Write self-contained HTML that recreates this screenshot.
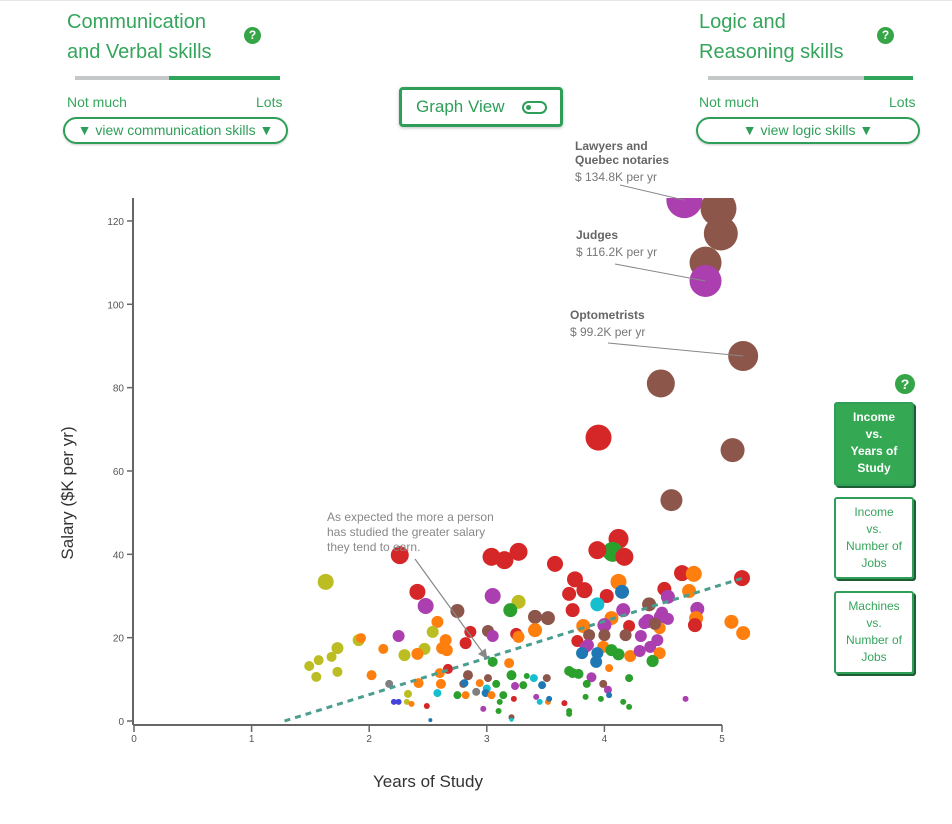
<!DOCTYPE html>
<html><head><meta charset="utf-8">
<style>
body{margin:0;width:952px;height:824px;background:#fff;font-family:"Liberation Sans",sans-serif;position:relative;overflow:hidden;color:#35a55c}
.abs{position:absolute}
.title{font-size:20px;line-height:30px;color:#35a55c}
.help{width:17px;height:17px;border-radius:50%;background:#35a547;color:#fff;font-size:12px;font-weight:bold;text-align:center;line-height:17px}
.lbl{font-size:14px;color:#35a55c}
.drop{border:2px solid #2e9e58;border-radius:14px;height:23px;font-size:14px;line-height:23px;text-align:center;color:#2e9e58;box-shadow:0 1px 2px rgba(0,0,0,.2)}
.sbtn{width:80px;border:2px solid #2e9e58;border-radius:3px;box-shadow:2px 2px 0 #1d5e33;font-size:12px;line-height:17px;text-align:center;box-sizing:border-box;color:#35a55c;padding-top:5px}
</style></head><body>
<div class="abs" style="left:0;top:0;width:952px;height:1px;background:#e6e6e6"></div>

<div class="abs title" style="left:67px;top:7px">Communication<br>and Verbal skills</div>
<div class="abs help" style="left:244px;top:27px">?</div>
<div class="abs" style="left:75px;top:76px;width:94px;height:4px;background:#c5c8c8"></div>
<div class="abs" style="left:169px;top:76px;width:111px;height:4px;background:#2fa55c"></div>
<div class="abs lbl" style="left:67px;top:94px">Not much</div>
<div class="abs lbl" style="left:256px;top:94px">Lots</div>
<div class="abs drop" style="left:63px;top:117px;width:221px">▼ view communication skills ▼</div>

<div class="abs" style="left:399px;top:87px;width:158px;height:34px;border:3px solid #2e9e58;border-radius:4px;font-size:17px;line-height:34px;color:#2e9e58;box-shadow:0 1px 3px rgba(0,0,0,.25)"><span style="margin-left:14px">Graph View</span>
<span class="abs" style="left:120px;top:11px;width:21px;height:9px;border:2px solid #2e9e58;border-radius:7px"><span class="abs" style="left:2px;top:2px;width:5px;height:5px;border-radius:50%;background:#2e9e58"></span></span></div>

<div class="abs title" style="left:699px;top:7px">Logic and<br>Reasoning skills</div>
<div class="abs help" style="left:877px;top:27px">?</div>
<div class="abs" style="left:708px;top:76px;width:156px;height:4px;background:#c5c8c8"></div>
<div class="abs" style="left:864px;top:76px;width:49px;height:4px;background:#2fa55c"></div>
<div class="abs lbl" style="left:699px;top:94px">Not much</div>
<div class="abs lbl" style="left:889px;top:94px">Lots</div>
<div class="abs drop" style="left:696px;top:117px;width:220px">▼ view logic skills ▼</div>

<div class="abs help" style="left:895px;top:374px;width:20px;height:20px;line-height:20px;font-size:14px">?</div>
<div class="abs sbtn" style="left:834px;top:402px;height:84px;background:#34a853;color:#fff;font-weight:bold">Income<br>vs.<br>Years of<br>Study</div>
<div class="abs sbtn" style="left:834px;top:497px;height:82px">Income<br>vs.<br>Number of<br>Jobs</div>
<div class="abs sbtn" style="left:834px;top:591px;height:83px">Machines<br>vs.<br>Number of<br>Jobs</div>

<svg class="abs" style="left:0;top:0" width="952" height="824" id="chart"></svg>

<script>
const xTicks=[0,1,2,3,4,5];
const yTicks=[0,20,40,60,80,100,120];
const palette=["#d62728","#ff7f0e","#2ca02c","#ab3fb0","#8c564b","#bcbd22","#17becf","#1f77b4","#7f7f7f","#4444dd"];
// [years, salary, bubble size, color index]
const years=[4.68,4.97,4.99,4.86,4.86,5.18,4.48,3.95,5.09,4.57,4.12,4.07,4.17,3.94,3.27,3.04,3.15,2.26,3.58,1.63,3.75,2.41,3.05,3.27,3.20,2.48,2.75,3.83,3.70,3.73,4.12,4.15,4.02,3.94,4.66,4.76,5.17,4.51,4.54,4.72,4.38,4.79,4.16,5.08,5.18,4.78,4.77,4.48,4.37,3.41,3.52,3.41,3.25,3.27,3.01,3.05,2.86,2.82,2.65,2.58,2.54,2.62,2.66,2.47,2.41,2.30,2.25,2.12,1.91,1.93,1.73,1.68,1.57,1.49,1.55,1.73,2.02,2.67,2.60,2.84,2.42,2.17,2.61,2.58,2.33,2.32,2.36,2.21,2.25,2.49,2.75,2.82,2.91,2.80,2.81,2.94,3.01,3.00,2.99,3.04,3.08,3.14,3.11,3.19,3.05,3.21,3.82,4.06,4.0,4.21,4.18,4.0,3.87,3.77,3.86,3.84,3.99,4.06,4.12,3.81,3.94,3.93,4.22,4.31,4.34,4.41,4.49,4.54,4.47,4.43,4.45,4.39,4.30,4.47,4.41,3.70,3.73,3.78,3.89,3.85,3.99,4.04,4.21,4.03,4.04,3.84,3.97,4.16,4.21,4.69,3.66,3.70,3.70,3.34,3.40,3.51,3.31,3.47,3.24,3.42,3.45,3.52,3.53,3.23,3.10,2.97,3.21,3.21,2.52];
const salary=[125,123,117,110,105.6,87.6,81,68,65,53,43.7,40.6,39.4,41,40.6,39.4,38.6,39.8,37.7,33.4,34,31,30,28.6,26.6,27.6,26.4,31.4,30.5,26.6,33.4,31,30,28,35.5,35.3,34.3,31.7,29.8,31.2,28,26.9,26.6,23.8,21.1,24.7,23,25,24,25,24.7,21.8,20.9,20.2,21.6,20.4,21.4,18.7,19.4,23.8,21.4,17.5,17,17.3,16.1,15.8,20.4,17.3,19.4,19.9,17.5,15.4,14.6,13.2,10.6,11.8,11,12.5,11.5,11,9.1,8.9,8.9,6.7,6.5,4.6,4.1,4.6,4.6,3.6,6.2,6.2,7,8.9,9.1,9.1,10.3,7.8,6.7,6.2,8.9,6.2,4.6,13.9,14.2,11,22.8,24.7,23,22.8,20.6,20.6,20.6,19.2,18.2,17.8,17.8,17,16,16.3,16.3,14.2,15.6,20.4,23.5,14.4,26,24.5,22.3,23.3,19.4,17.8,16.8,16.3,14.4,12,11.5,11.3,10.5,8.9,8.9,12.7,10.3,7.5,6.2,5.8,5.3,4.6,3.4,5.3,4.3,2.4,1.7,10.8,10.3,10.3,8.6,8.6,8.4,5.8,4.6,4.6,5.3,5.3,2.4,2.9,0.9,0.3,0.2];
const sizes=[18,18,17,16,16,15,14,13,12,11,10,10,9,9,9,9,9,9,8,8,8,8,8,7,7,8,7,8,7,7,8,7,7,7,8,8,8,7,7,7,7,7,7,7,7,7,7,7,7,7,7,7,6,6,6,6,6,6,6,6,6,6,6,6,6,6,6,5,6,5,6,5,5,5,5,5,5,5,5,5,5,4,5,4,4,3,3,3,3,3,4,4,4,4,4,4,4,4,4,4,4,4,3,5,5,5,7,7,7,6,6,6,6,6,6,6,6,6,6,6,6,6,6,6,6,6,6,6,6,6,6,6,6,6,6,5,5,5,5,4,4,4,4,4,3,3,3,3,3,3,3,3,3,3,4,4,4,4,4,3,3,3,3,3,3,3,3,2,2,2,1.5];
const colors=[3,4,4,4,3,4,4,0,4,4,0,2,0,0,0,0,0,0,0,5,0,0,3,5,2,3,4,0,0,0,1,7,0,6,0,1,0,0,3,1,4,3,3,1,1,1,0,3,3,4,4,1,0,1,4,3,0,0,1,1,5,1,1,5,1,5,3,1,5,1,5,5,5,5,5,5,1,0,1,4,1,8,1,6,5,5,1,9,9,0,2,1,8,4,7,1,4,6,7,1,2,2,2,1,2,2,1,1,3,0,4,4,4,0,3,3,1,2,2,7,7,7,1,3,3,2,3,3,1,4,3,3,3,1,2,2,2,2,3,2,4,1,2,3,7,2,2,2,2,3,0,2,2,2,6,4,2,7,3,3,6,1,7,0,2,3,4,6,7,6];
const trendX=[1.28,5.2];
const trendY=[0,34.5];
const noteNames=[["Lawyers and","Quebec notaries"],["Judges"],["Optometrists"]];
const noteSalary=["$ 134.8K per yr","$ 116.2K per yr","$ 99.2K per yr"];
const noteYears=[4.68,4.86,5.18];
const noteValues=[125,105.6,87.6];
const noteLayout=[{x:575,ty:150,lx:620,ly:185},{x:576,ty:239,lx:615,ly:264},{x:570,ty:319,lx:608,ly:343}];

const X0=134,XU=117.6,Y0=721,YU=4.167;
const xs=v=>X0+v*XU, ys=v=>Y0-v*YU;
const svg=document.getElementById('chart'),NS="http://www.w3.org/2000/svg";
function mk(t,a,p){const e=document.createElementNS(NS,t);for(const k in a)e.setAttribute(k,a[k]);(p||svg).appendChild(e);return e;}
const defs=mk('defs',{});
const cp=mk('clipPath',{id:'plotclip'},defs);mk('rect',{x:100,y:198,width:700,height:560},cp);
const mark=mk('marker',{id:'arr',markerWidth:8,markerHeight:8,refX:6,refY:4,orient:'auto'},defs);mk('path',{d:'M0,0L8,4L0,8z',fill:'#888'},mark);

const g=mk('g',{'clip-path':'url(#plotclip)'});
for(let i=0;i<years.length;i++){
  const c=mk('circle',{cx:xs(years[i]),cy:ys(salary[i]),r:sizes[i],fill:palette[colors[i]]},g);
  
  
}
const tl=mk('line',{x1:xs(trendX[0]),y1:ys(trendY[0]),x2:xs(trendX[1]),y2:ys(trendY[1]),stroke:'#4a9d8f','stroke-width':3,'stroke-dasharray':'6 5'});



const ya=mk('line',{x1:X0-1,y1:198,x2:X0-1,y2:725,stroke:'#666','stroke-width':2});


const xa=mk('line',{x1:X0-1,y1:725,x2:xs(5),y2:725,stroke:'#666','stroke-width':2});


yTicks.forEach(v=>{
  mk('line',{x1:X0-7,y1:ys(v),x2:X0-1,y2:ys(v),stroke:'#666','stroke-width':1.5});
  const t=mk('text',{x:X0-10,y:ys(v)+4,'text-anchor':'end','font-size':10,fill:'#555'});t.textContent=v;
  
  
});
xTicks.forEach(v=>{
  mk('line',{x1:xs(v),y1:725,x2:xs(v),y2:732,stroke:'#666','stroke-width':1.5});
  const t=mk('text',{x:xs(v),y:742,'text-anchor':'middle','font-size':10,fill:'#555'});t.textContent=v;
  
  
});
const yt=mk('text',{x:0,y:0,transform:'translate(73,493) rotate(-90)','text-anchor':'middle','font-size':17,fill:'#333'});yt.textContent='Salary ($K per yr)';


const xt=mk('text',{x:428,y:787,'text-anchor':'middle','font-size':17,fill:'#333'});xt.textContent='Years of Study';



noteNames.forEach((names,i)=>{
  const L=noteLayout[i];
  let y=L.ty;
  names.forEach((s,j)=>{
    const t=mk('text',{x:L.x,y:y+j*14,'font-size':12,fill:'#666','font-weight':'bold'});t.textContent=s;
    
    
  });
  y+= (names.length-1)*14;
  const t3=mk('text',{x:L.x,y:y+17,'font-size':12,fill:'#777'});t3.textContent=noteSalary[i];
  
  
  mk('line',{x1:L.lx,y1:L.ly,x2:xs(noteYears[i]),y2:ys(noteValues[i]),stroke:'#888','stroke-width':1});
});
['As expected the more a person','has studied the greater salary','they tend to earn.'].forEach((s,i)=>{
  const t=mk('text',{x:327,y:521+i*15,'font-size':12,fill:'#888'});t.textContent=s;
  
  
});
mk('line',{x1:415,y1:559,x2:486,y2:657,stroke:'#888','stroke-width':1.2,'marker-end':'url(#arr)'});
</script>
</body></html>
